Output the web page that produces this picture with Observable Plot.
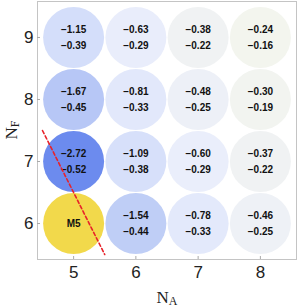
<!DOCTYPE html>
<html><head><meta charset="utf-8">
<script src="https://cdn.jsdelivr.net/npm/d3@7"></script>
<script src="https://cdn.jsdelivr.net/npm/@observablehq/plot@0.6"></script>
<style>body{margin:0;background:#fff}</style>
</head><body><div id="chart"></div>
<script>
const naTicks = [5, 6, 7, 8];
const nfTicks = [6, 7, 8, 9];
const cellNA = [5,6,7,8, 5,6,7,8, 5,6,7,8, 5,6,7,8];
const cellNF = [9,9,9,9, 8,8,8,8, 7,7,7,7, 6,6,6,6];
const topVal = [-1.15,-0.63,-0.38,-0.24, -1.67,-0.81,-0.48,-0.30, -2.72,-1.09,-0.60,-0.37, null,-1.54,-0.78,-0.46];
const botVal = [-0.39,-0.29,-0.22,-0.16, -0.45,-0.33,-0.25,-0.19, -0.52,-0.38,-0.29,-0.22, null,-0.44,-0.33,-0.25];
const refLabel = ["M5"], refNA = [5], refNF = [6];
const cutNA = [4.5, 5.5], cutNF = [7.5, 5.5];

const cells = cellNA.map((a, i) => ({na: a, nf: cellNF[i], t: topVal[i], b: botVal[i]}));
const vals = cells.filter(d => d.t != null);
const ref = refLabel.map((l, i) => ({na: refNA[i], nf: refNF[i], label: l}));
const cut = cutNA.map((a, i) => ({na: a, nf: cutNF[i]}));
const fmt = v => v.toFixed(2).replace("-", "\u2212");

const plot = Plot.plot({
  width: 297, height: 308,
  marginLeft: 37, marginRight: 1, marginTop: 1, marginBottom: 49,
  style: {fontFamily: "'Liberation Sans', Arial, sans-serif", background: "#fff"},
  x: {domain: [4.42, 8.58]},
  y: {domain: [5.42, 9.58]},
  color: {type: "linear", domain: [-2.72, -1.6, -1.1, -0.6, -0.24],
          range: ["#6c8bee", "#bccbf6", "#d7e0fa", "#eaeefb", "#f3f5ee"]},
  marks: [
    Plot.dot(vals, {x: "na", y: "nf", r: 30.5, fill: "t", stroke: null}),
    Plot.dot(ref, {x: "na", y: "nf", r: 30.5, fill: "#f2d94b", stroke: null}),
    Plot.text(vals, {x: "na", y: "nf", text: d => fmt(d.t), dy: -7.5, fontSize: 10, fontWeight: "bold", fill: "#111"}),
    Plot.text(vals, {x: "na", y: "nf", text: d => fmt(d.b), dy: 8, fontSize: 10, fontWeight: "bold", fill: "#111"}),
    Plot.text(ref, {x: "na", y: "nf", text: "label", fontSize: 10, fontWeight: "bold", fill: "#111"}),
    Plot.line(cut, {x: "na", y: "nf", stroke: "#e8222a", strokeWidth: 1.6, strokeDasharray: "3.5,2.5"}),
    Plot.frame({stroke: "#c4c4c4"}),
    Plot.axisX(naTicks, {tickSize: 0, tickPadding: 6, tickFormat: "d", fontSize: 17, fill: "#222", label: null}),
    Plot.axisX(naTicks, {tickSize: 3, dy: -3, text: null, stroke: "#aaa", label: null}),
    Plot.axisY(nfTicks, {tickSize: 0, tickPadding: 4, tickFormat: "d", fontSize: 17, fill: "#222", label: null}),
    Plot.axisY(nfTicks, {tickSize: 3, dx: 3, text: null, stroke: "#aaa", label: null})
  ]
});
document.getElementById("chart").appendChild(plot);

const svg = d3.select(plot);
const xl = svg.append("text")
  .attr("x", 167).attr("y", 303).attr("text-anchor", "middle")
  .attr("font-family", "'Liberation Serif', 'Times New Roman', serif")
  .attr("font-size", 17).attr("fill", "#222");
xl.append("tspan").text("N");
xl.append("tspan").attr("font-size", 12).attr("dy", 2).text("A");

const yl = svg.append("text")
  .attr("transform", "translate(17,130) rotate(-90)").attr("text-anchor", "middle")
  .attr("font-family", "'Liberation Serif', 'Times New Roman', serif")
  .attr("font-size", 17).attr("fill", "#222");
yl.append("tspan").text("N");
yl.append("tspan").attr("font-size", 12).attr("dy", 2).text("F");
</script>
</body></html>
